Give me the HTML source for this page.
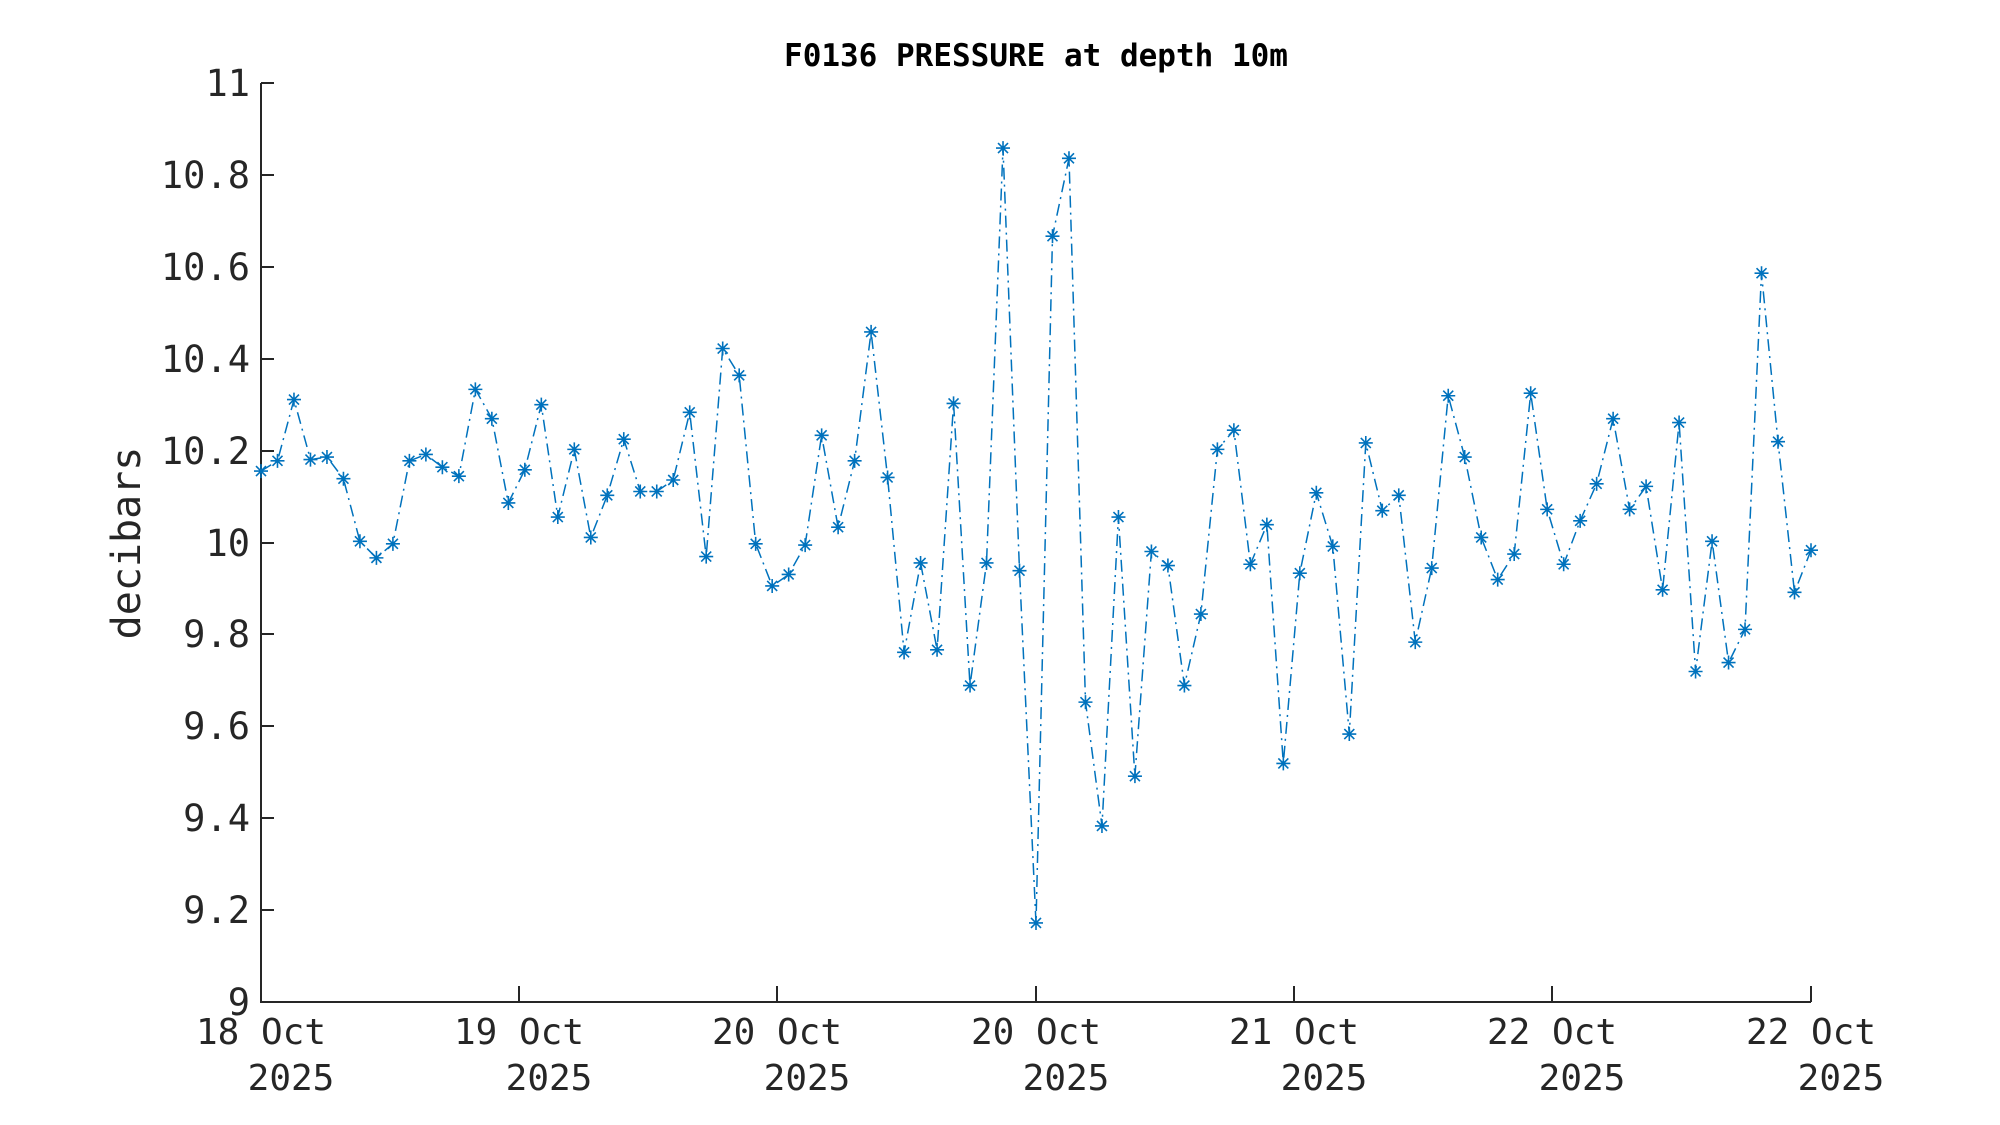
<!DOCTYPE html>
<html><head><meta charset="utf-8"><style>
html,body{margin:0;padding:0;background:#fff;}
svg{display:block;}
text{font-family:"DejaVu Sans Mono","Liberation Mono",monospace;fill:#262626;}
</style></head><body>
<svg id="s" width="2000" height="1125" viewBox="0 0 2000 1125" xmlns="http://www.w3.org/2000/svg">
<rect width="2000" height="1125" fill="#fff"/>
<text x="1036" y="66" text-anchor="middle" font-size="31" font-weight="bold" style="fill:#000">F0136 PRESSURE at depth 10m</text>
<text transform="translate(140,543) rotate(-90)" text-anchor="middle" font-size="40">decibars</text>
<g stroke="#262626" stroke-width="2" fill="none">
<path d="M261,83 V1002 H1811"/>
<path d="M261,83 h13 M261,175 h13 M261,267 h13 M261,359 h13 M261,451 h13 M261,543 h13 M261,634 h13 M261,726 h13 M261,818 h13 M261,910 h13"/>
<path d="M519,1002 v-16 M777,1002 v-16 M1036,1002 v-16 M1294,1002 v-16 M1552,1002 v-16 M1811,1002 v-16"/>
</g>
<g font-size="37" text-anchor="end">
<text x="250" y="96">11</text><text x="250" y="188">10.8</text><text x="250" y="280">10.6</text>
<text x="250" y="372">10.4</text><text x="250" y="464">10.2</text><text x="250" y="556">10</text>
<text x="250" y="647">9.8</text><text x="250" y="739">9.6</text><text x="250" y="831">9.4</text>
<text x="250" y="923">9.2</text><text x="250" y="1015">9</text>
</g>
<g font-size="36" text-anchor="middle">
<text x="261" y="1044">18 Oct</text><text x="291" y="1090">2025</text>
<text x="519" y="1044">19 Oct</text><text x="549" y="1090">2025</text>
<text x="777" y="1044">20 Oct</text><text x="807" y="1090">2025</text>
<text x="1036" y="1044">20 Oct</text><text x="1066" y="1090">2025</text>
<text x="1294" y="1044">21 Oct</text><text x="1324" y="1090">2025</text>
<text x="1552" y="1044">22 Oct</text><text x="1582" y="1090">2025</text>
<text x="1811" y="1044">22 Oct</text><text x="1841" y="1090">2025</text>
</g>
<path id="ln" fill="none" stroke="#0072BD" stroke-width="1.5" stroke-dasharray="12,5,2,5"/>
<g id="mk" stroke="#0072BD" stroke-width="1.6" fill="none"></g>
</svg>
<script>
var ys=[369,361,313,360,358,375,424,437,426,361,356,366,373,305,328,394,368,317,405,352,421,388,344,385,385,376,323,436,273,294,426,459,450,427,341,413,361,260,374,511,441,509,316,537,441,116,447,723,185,124,550,647,405,608,432,443,537,481,352,337,442,411,598,449,386,428,575,347,400,388,503,445,310,358,421,454,434,308,399,442,408,379,328,399,381,462,331,526,424,519,493,214,346,464,431];
var n=ys.length,k=1.2766,d="",m="";
for(var i=0;i<n;i++){
 var x=261+(1811-261)*i/(n-1), y=ys[i]*k;
 d+=(i?"L":"M")+x.toFixed(1)+","+y.toFixed(1);
 var r=7;
 m+="M"+(x-r)+","+y+"h"+(2*r)+"M"+x+","+(y-r)+"v"+(2*r)+"M"+(x-5)+","+(y-5)+"l10,10M"+(x-5)+","+(y+5)+"l10,-10";
}
document.getElementById("ln").setAttribute("d",d);
var p=document.createElementNS("http://www.w3.org/2000/svg","path");p.setAttribute("d",m);
document.getElementById("mk").appendChild(p);
</script>
</body></html>
